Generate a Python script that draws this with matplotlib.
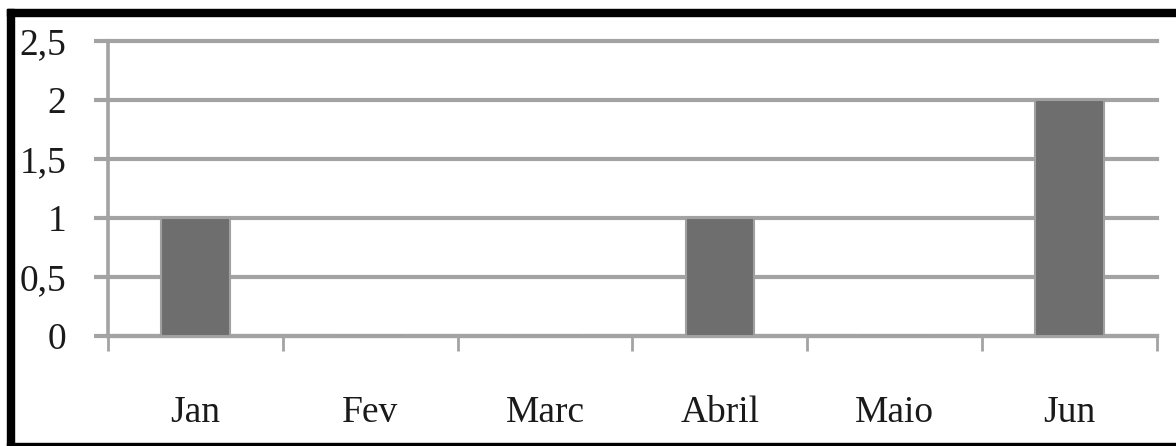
import matplotlib.pyplot as plt
from matplotlib.patches import Rectangle

# monthly counts
meses = ['Jan', 'Fev', 'Marc', 'Abril', 'Maio', 'Jun']
valores = [1, 0, 0, 1, 0, 2]
y_ticks = [0, 0.5, 1, 1.5, 2, 2.5]
y_labels = ['0', '0,5', '1', '1,5', '2', '2,5']

plt.rcParams['font.family'] = ['Liberation Serif', 'DejaVu Serif']
grid_color = '#a3a3a3'

fig = plt.figure(figsize=(11.76, 4.46), dpi=100)
W, H = 1176, 446
ax = fig.add_axes([108 / W, 1 - 336 / H, (1157 - 108) / W, (336 - 41) / H])

x = range(len(meses))
ax.bar(x, valores, width=0.39, color='#6e6e6e', edgecolor='#a0a0a0',
       linewidth=1.5, zorder=3)

ax.set_xlim(-0.5, len(meses) - 0.5)
ax.set_ylim(0, 2.5)

# gridlines
ax.set_yticks(y_ticks)
ax.set_yticklabels(y_labels, fontsize=27, color='#1a1a1a')
ax.yaxis.grid(True, color=grid_color, linewidth=3, zorder=1)
ax.tick_params(axis='y', length=10, width=3, color=grid_color, pad=20)
for gl in ax.get_ygridlines():
    gl.set_clip_on(False)

# category labels centred, tick marks on the boundaries
ax.set_xticks(list(x))
ax.set_xticklabels(meses, fontsize=27, color='#1a1a1a')
ax.tick_params(axis='x', which='major', length=0, pad=43)
ax.set_xticks([i - 0.5 for i in range(len(meses) + 1)], minor=True)
ax.tick_params(axis='x', which='minor', length=11, width=2, color=grid_color)

for s in ['top', 'right']:
    ax.spines[s].set_visible(False)
ax.spines['left'].set_color(grid_color)
ax.spines['left'].set_linewidth(2.6)
ax.spines['bottom'].set_color(grid_color)
ax.spines['bottom'].set_linewidth(3)
ax.spines['left'].set_zorder(0)

# black frame
fig.patches.append(Rectangle((7 / W, 0), 7 / W, 1 - 9 / H, transform=fig.transFigure,
                             color='black', zorder=10))
fig.patches.append(Rectangle((7 / W, 1 - 16 / H), 1, 7 / H, transform=fig.transFigure,
                             color='black', zorder=10))
fig.patches.append(Rectangle((7 / W, 0), 1, 3 / H, transform=fig.transFigure,
                             color='black', zorder=10))

fig.savefig('out.png', dpi=100)
